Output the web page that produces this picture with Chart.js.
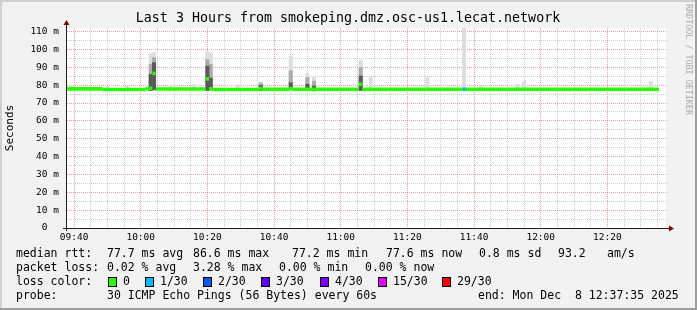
<!DOCTYPE html>
<html>
<head>
<meta charset="utf-8">
<script src="https://cdn.jsdelivr.net/npm/chart.js@4/dist/chart.umd.min.js"></script>
<style>
  html, body { margin: 0; padding: 0; background: #f2f2f2; }
  canvas { display: block; }
</style>
</head>
<body>
<canvas id="chartDiv" width="697" height="310"></canvas>
<script>
const startTime = '09:37:35'
const endTime = '12:37:35'
const xTickLabels = ['09:40', '10:00', '10:20', '10:40', '11:00', '11:20', '11:40', '12:00', '12:20']

// median rtt (ms) per one-minute bin, listed only where the value changes
const medianTimes = ['09:38', '09:49', '10:02', '10:03', '10:04', '10:05', '10:20', '10:21', '10:22', '10:36', '10:37', '10:45', '10:46', '11:06', '11:07', '11:37', '11:38']
const medianValues = [77.9, 77.6, 78.0, 78.2, 86.6, 77.8, 83.5, 77.9, 77.6, 78.1, 77.7, 78.0, 77.7, 80.5, 77.7, 77.7, 77.7]
const medianLoss = [0, 0, 0, 0, 0, 0, 0, 0, 0, 0, 0, 0, 0, 0, 0, 1, 0]
const medianEnd = '12:35:30'

// smoke: spread of the 30 pings in the bins where it shows (ms)
const smokeTimes = ['09:39', '09:50', '09:56', '10:03', '10:04', '10:09', '10:16', '10:20', '10:21', '10:29', '10:36', '10:45', '10:50', '10:52', '11:06', '11:09', '11:26', '11:37', '11:42', '11:53', '11:55', '12:33']
const smokeLow = [77.3, 77.2, 77.3, 77.0, 77.4, 77.3, 77.3, 77.0, 77.5, 77.3, 77.0, 77.5, 77.2, 76.8, 77.0, 77.4, 77.4, 77.6, 77.3, 77.3, 77.3, 77.3]
const smokeHigh = [79.6, 79.2, 79.5, 97.6, 98.2, 80.0, 80.4, 98.7, 98.0, 80.0, 81.8, 96.3, 86.5, 84.4, 94.1, 84.2, 84.2, 112, 80.2, 80.3, 82.0, 82.0]
const smokeMidHigh = [null, null, null, 91.7, 95.4, null, null, 94.4, 91.6, null, 81.0, 88.0, 84.2, 82.3, 89.8, null, null, null, null, null, null, null]
const smokeCoreHigh = [null, null, null, 86.0, 92.6, null, null, 90.7, 84.0, null, 79.8, 81.4, 80.5, 79.5, 85.1, null, null, null, null, null, null, null]

const lossSteps = ['0', '1/30', '2/30', '3/30', '4/30', '15/30', '29/30']
const lossColors = ['#26ff00', '#00b8ff', '#0059ff', '#5e00ff', '#7e00ff', '#dd00ff', '#ff0000']

const toMin = s => {
  const [h, m, sec = 0] = s.split(':').map(Number)
  return h * 60 + m + sec / 60
}
const hhmm = v => String(Math.floor(v / 60)).padStart(2, '0') + ':' + String(Math.round(v % 60)).padStart(2, '0')

const xMin = toMin(startTime)
const xMax = toMin(endTime)

// median as horizontal runs, broken between runs
const medianPoints = []
const pointLoss = []
medianTimes.forEach((t, i) => {
  const x0 = Math.max(toMin(t) - 0.5, xMin)
  const x1 = i + 1 < medianTimes.length ? toMin(medianTimes[i + 1]) - 0.5 : toMin(medianEnd)
  medianPoints.push({ x: x0, y: medianValues[i] }, { x: x1, y: medianValues[i] }, { x: x1, y: null })
  pointLoss.push(medianLoss[i], medianLoss[i], medianLoss[i])
})

const band = top => smokeTimes
  .map((t, i) => top[i] == null ? null : { x: toMin(t), y: [smokeLow[i], top[i]] })
  .filter(p => p)

const axisColor = '#1e1e1e'
const majorGrid = 'rgba(222, 80, 80, 0.55)'
const minorGrid = 'rgba(140, 140, 140, 0.45)'
const binWidth = 600 / 180

// grid every 5 minutes, labelled every 20
const gridTicks = s => {
  const ticks = []
  for (let v = Math.ceil(s.min / 5) * 5; v < s.max; v += 5) ticks.push({ value: v })
  s.ticks = ticks
}

const legendRows = [
  { y: 254, items: [['median rtt:', 16], ['77.7 ms avg', 107], ['86.6 ms max', 193], ['77.2 ms min', 292], ['77.6 ms now', 386], ['0.8 ms sd', 479], ['93.2', 558], ['am/s', 607]] },
  { y: 268, items: [['packet loss:', 16], ['0.02 % avg', 107], ['3.28 % max', 193], ['0.00 % min', 279], ['0.00 % now', 365]] },
  { y: 282, items: [['loss color:', 16]] },
  { y: 296, items: [['probe:', 16], ['30 ICMP Echo Pings (56 Bytes) every 60s', 107], ['end: Mon Dec  8 12:37:35 2025', 478]] }
]
const swatchX = [108, 145, 203, 261, 320, 378, 442]

const rrdLook = {
  id: 'rrdLook',
  beforeDraw(chart) {
    const { ctx, width, height, chartArea: a } = chart
    ctx.save()
    ctx.fillStyle = '#f2f2f2'
    ctx.fillRect(0, 0, width, height)
    ctx.fillStyle = '#cfcfcf'
    ctx.fillRect(0, 0, width, 2)
    ctx.fillRect(0, 0, 2, height)
    ctx.fillStyle = '#9e9e9e'
    ctx.fillRect(0, height - 2, width, 2)
    ctx.fillRect(width - 2, 0, 2, height)
    ctx.fillStyle = '#ffffff'
    ctx.fillRect(a.left, a.top, a.right - a.left, a.bottom - a.top)
    ctx.restore()
  },
  afterDraw(chart) {
    const { ctx, chartArea: a } = chart
    const bx = Math.round(a.left - 0.5) + 0.5
    const by = Math.round(a.bottom - 0.5) + 0.5
    ctx.save()
    ctx.strokeStyle = axisColor
    ctx.lineWidth = 1
    ctx.beginPath()
    ctx.moveTo(a.left - 3, by); ctx.lineTo(a.right + 3, by)
    ctx.moveTo(bx, a.bottom + 3); ctx.lineTo(bx, a.top - 3)
    ctx.stroke()
    ctx.fillStyle = '#7f0000'
    ctx.beginPath()
    ctx.moveTo(a.right + 3, by - 3); ctx.lineTo(a.right + 8, by); ctx.lineTo(a.right + 3, by + 3)
    ctx.closePath(); ctx.fill()
    ctx.beginPath()
    ctx.moveTo(bx - 3, a.top - 3); ctx.lineTo(bx, a.top - 8); ctx.lineTo(bx + 3, a.top - 3)
    ctx.closePath(); ctx.fill()

    ctx.fillStyle = '#000'
    ctx.textBaseline = 'middle'
    ctx.textAlign = 'center'
    ctx.font = '13.3px "DejaVu Sans Mono"'
    ctx.fillText('Last 3 Hours from smokeping.dmz.osc-us1.lecat.network', 348, 19)

    ctx.font = '11.5px "DejaVu Sans Mono"'
    ctx.textAlign = 'left'
    legendRows.forEach(row => row.items.forEach(([text, x]) => ctx.fillText(text, x, row.y)))
    lossSteps.forEach((label, i) => {
      ctx.fillStyle = lossColors[i]
      ctx.fillRect(swatchX[i] + 0.5, 277.5, 8, 9)
      ctx.strokeStyle = '#000'
      ctx.strokeRect(swatchX[i] + 0.5, 277.5, 8, 9)
      ctx.fillStyle = '#000'
      ctx.fillText(label, swatchX[i] + 15, 282)
    })

    ctx.translate(688, 4)
    ctx.rotate(Math.PI / 2)
    ctx.font = '8.4px "DejaVu Sans Mono"'
    ctx.fillStyle = '#ababab'
    ctx.fillText('RRDTOOL / TOBI OETIKER', 0, 0)
    ctx.restore()
  }
}

Chart.defaults.font.family = '"DejaVu Sans Mono", monospace'

new Chart(document.getElementById('chartDiv'), {
  type: 'line',
  data: {
    datasets: [
      {
        label: 'median rtt',
        data: medianPoints,
        borderColor: lossColors[0],
        borderWidth: 3.6,
        pointRadius: 0,
        spanGaps: false,
        tension: 0,
        order: 0,
        segment: {
          borderColor: ctx => lossColors[pointLoss[ctx.p0DataIndex]]
        }
      },
      { type: 'bar', label: 'core', data: band(smokeCoreHigh), backgroundColor: '#595959', barThickness: binWidth, grouped: false, order: 1 },
      { type: 'bar', label: 'mid', data: band(smokeMidHigh), backgroundColor: '#ababab', barThickness: binWidth, grouped: false, order: 2 },
      { type: 'bar', label: 'smoke', data: band(smokeHigh), backgroundColor: '#dddddd', barThickness: binWidth, grouped: false, order: 3 }
    ]
  },
  options: {
    responsive: false,
    animation: false,
    layout: { padding: { left: 0, right: 31, top: 28, bottom: 62 } },
    scales: {
      x: {
        type: 'linear',
        min: xMin,
        max: xMax,
        offset: false,
        afterBuildTicks: gridTicks,
        ticks: {
          autoSkip: false,
          maxRotation: 0,
          padding: 4,
          color: '#000',
          font: { size: 9.5 },
          callback: v => xTickLabels.includes(hhmm(v)) ? hhmm(v) : ''
        },
        grid: {
          offset: false,
          drawTicks: false,
          color: ctx => ctx.tick && ctx.tick.value % 20 === 0 ? majorGrid : minorGrid
        },
        border: { color: axisColor, dash: [1, 1] },
        afterFit: s => { s.height = 20 }
      },
      y: {
        min: 0,
        max: 112,
        ticks: {
          stepSize: 5,
          includeBounds: false,
          autoSkip: false,
          padding: 7,
          color: '#000',
          font: { size: 9.5 },
          callback: v => v % 10 ? '' : (v === 0 ? '0  ' : v + ' m')
        },
        grid: {
          drawTicks: false,
          color: ctx => ctx.tick && ctx.tick.value % 10 === 0 ? majorGrid : minorGrid
        },
        border: { color: axisColor, dash: [1, 1] },
        title: { display: true, text: 'Seconds', color: '#000', font: { size: 11 }, padding: { top: 4, bottom: 0 } },
        afterFit: s => { s.width = 66 }
      }
    },
    plugins: {
      legend: { display: false },
      tooltip: { enabled: false }
    }
  },
  plugins: [rrdLook]
})
</script>
</body>
</html>
